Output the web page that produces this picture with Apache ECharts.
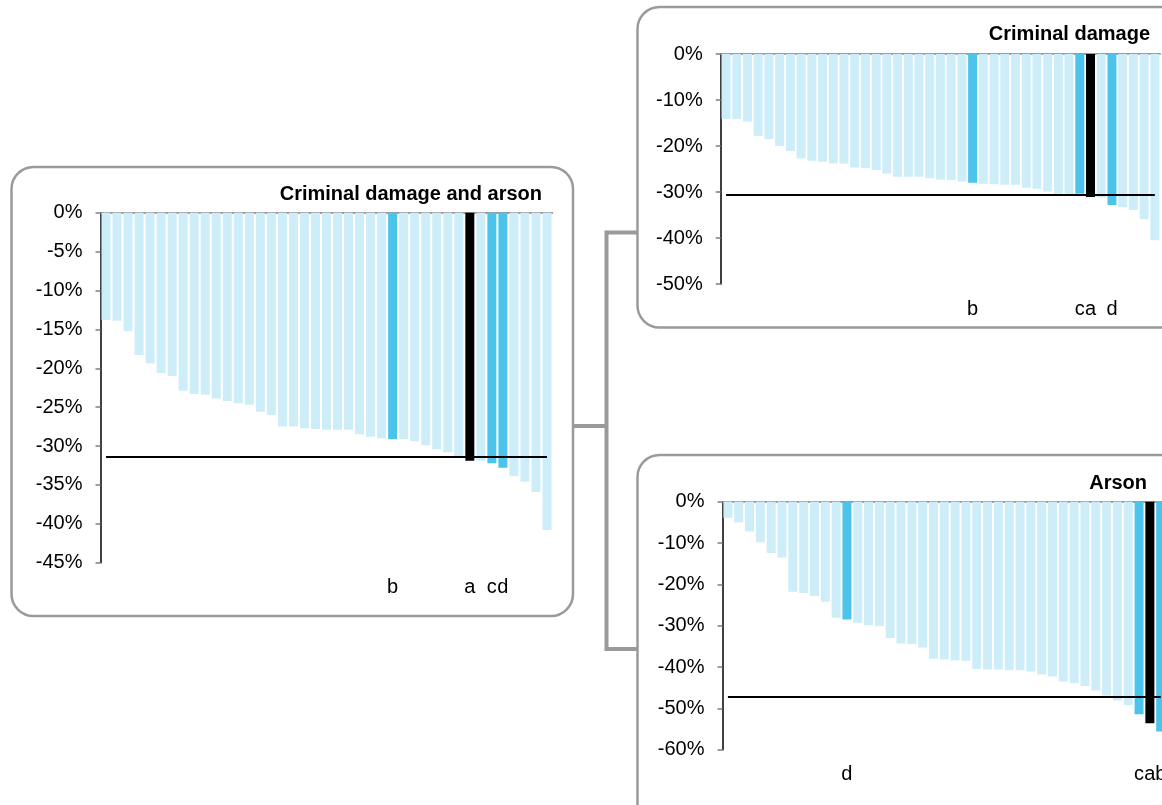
<!DOCTYPE html>
<html>
<head>
<meta charset="utf-8">
<script src="https://cdn.jsdelivr.net/npm/echarts@6/dist/echarts.min.js"></script>
<style>
html,body{margin:0;padding:0;background:#fff;}
#c{width:1162px;height:805px;}
</style>
</head>
<body>
<div id="c"></div>
<script>
// ---- Data ----
const titles = ['Criminal damage and arson', 'Criminal damage', 'Arson'];

const cdaValues = [-13.8, -13.9, -15.2, -18.3, -19.4, -20.6, -21.0, -22.9, -23.3, -23.4,
  -23.9, -24.2, -24.5, -24.7, -25.6, -26.0, -27.5, -27.5, -27.7, -27.8,
  -27.9, -27.9, -27.9, -28.5, -28.8, -29.0, -29.1, -29.1, -29.4, -29.9,
  -30.4, -30.8, -31.3, -31.9, -31.9, -32.2, -32.8, -33.9, -34.6, -35.9, -40.8];
const cdaMarks = ['', '', '', '', '', '', '', '', '', '',
  '', '', '', '', '', '', '', '', '', '',
  '', '', '', '', '', '', 'b', '', '', '',
  '', '', '', 'a', '', 'c', 'd', '', '', '', ''];
const cdaAverage = -31.4;

const cdValues = [-14.1, -14.1, -14.7, -17.8, -18.5, -20.0, -21.1, -22.7, -23.2, -23.4,
  -23.8, -23.8, -24.7, -24.8, -25.2, -26.0, -26.7, -26.7, -26.7, -27.0,
  -27.3, -27.4, -27.7, -28.0, -28.2, -28.3, -28.4, -28.4, -29.1, -29.3,
  -29.9, -30.4, -30.4, -30.4, -31.1, -31.2, -32.8, -33.3, -33.9, -35.9, -40.5];
const cdMarks = ['', '', '', '', '', '', '', '', '', '',
  '', '', '', '', '', '', '', '', '', '',
  '', '', '', 'b', '', '', '', '', '', '',
  '', '', '', 'c', 'a', '', 'd', '', '', '', ''];
const cdAverage = -30.6;

const arsonValues = [-3.9, -5.0, -7.2, -9.8, -12.4, -13.5, -21.8, -22.1, -22.8, -24.2,
  -28.1, -28.5, -29.3, -29.9, -30.1, -33.0, -34.3, -34.4, -35.3, -38.0,
  -38.2, -38.4, -38.5, -40.5, -40.6, -40.6, -40.8, -40.8, -41.1, -41.8,
  -42.3, -43.5, -43.9, -44.6, -45.7, -46.9, -48.1, -49.2, -51.4, -53.6, -55.6];
const arsonMarks = ['', '', '', '', '', '', '', '', '', '',
  '', 'd', '', '', '', '', '', '', '', '',
  '', '', '', '', '', '', '', '', '', '',
  '', '', '', '', '', '', '', '', 'c', 'a', 'b'];
const arsonAverage = -47.3;

const yMins = [-45, -50, -60];
const yIntervals = [5, 10, 10];

// ---- Styling ----
const LIGHT = '#cdedf9';
const DARK = '#4bc3eb';
const BLACK = '#000000';
const FONT = "'Liberation Sans', Arial, sans-serif";

const panels = [
  {values: cdaValues, marks: cdaMarks, avg: cdaAverage,
   grid: {left: 100.5, top: 212.7, width: 452, height: 350}},
  {values: cdValues, marks: cdMarks, avg: cdAverage,
   grid: {left: 720.7, top: 54, width: 439.5, height: 230}},
  {values: arsonValues, marks: arsonMarks, avg: arsonAverage,
   grid: {left: 722.5, top: 501.7, width: 443.6, height: 248}}
];

const grid = [], xAxis = [], yAxis = [], series = [];
panels.forEach((p, i) => {
  grid.push(Object.assign({containLabel: false, outerBoundsMode: 'none'}, p.grid));
  xAxis.push({
    type: 'category', gridIndex: i, position: 'top', data: p.marks,
    axisLine: {show: true, onZero: false, lineStyle: {color: '#7f7f7f', width: 1.5}},
    axisTick: {show: false}, axisLabel: {show: false}, splitLine: {show: false}
  });
  xAxis.push({
    type: 'category', gridIndex: i, position: 'bottom', data: p.marks,
    axisLine: {show: false, onZero: false}, axisTick: {show: false},
    axisLabel: {show: true, interval: 0, margin: 15, fontSize: 20, color: '#000', fontFamily: FONT},
    splitLine: {show: false}
  });
  yAxis.push({
    type: 'value', gridIndex: i, min: yMins[i], max: 0, interval: yIntervals[i],
    axisLine: {show: true, onZero: false, lineStyle: {color: '#000', width: 1.5}},
    axisTick: {show: true, length: 5, lineStyle: {color: '#7f7f7f', width: 1.5}},
    axisLabel: {formatter: '{value}%', fontSize: 20, color: '#000', fontFamily: FONT, margin: 18},
    splitLine: {show: false}
  });
  series.push({
    type: 'bar', xAxisIndex: 2 * i + 1, yAxisIndex: i, barWidth: 9,
    data: p.values.map((v, k) => ({
      value: v,
      itemStyle: {color: p.marks[k] === 'a' ? BLACK : (p.marks[k] ? DARK : LIGHT)}
    })),
    markLine: {
      silent: true, symbol: ['none', 'none'], label: {show: false},
      lineStyle: {color: '#000', width: 2, type: 'solid'},
      data: [[{coord: [0, p.avg]}, {coord: [p.values.length - 1, p.avg]}]]
    },
    animation: false
  });
});

const title = [
  {text: titles[0], right: 620, top: 184.5},
  {text: titles[1], right: 12, top: 24},
  {text: titles[2], right: 15, top: 473.5}
].map(t => Object.assign(t, {padding: 0,
  textStyle: {fontSize: 20, fontWeight: 'bold', color: '#000', fontFamily: FONT}}));

const BORDER = '#9a9a9a';
const graphic = [
  {type: 'rect', shape: {x: 11.5, y: 167, width: 561.5, height: 449, r: 22},
   style: {fill: 'none', stroke: BORDER, lineWidth: 2.5}, silent: true},
  {type: 'rect', shape: {x: 637.5, y: 7, width: 545, height: 320.5, r: 22},
   style: {fill: 'none', stroke: BORDER, lineWidth: 2.5}, silent: true},
  {type: 'rect', shape: {x: 637.5, y: 455, width: 545, height: 400, r: 22},
   style: {fill: 'none', stroke: BORDER, lineWidth: 2.5}, silent: true},
  {type: 'polyline', shape: {points: [[573, 426], [606.5, 426]]},
   style: {stroke: BORDER, lineWidth: 4, fill: 'none'}, silent: true},
  {type: 'polyline', shape: {points: [[637, 232.5], [606.5, 232.5], [606.5, 649], [637, 649]]},
   style: {stroke: BORDER, lineWidth: 4, fill: 'none'}, silent: true}
];

const chart = echarts.init(document.getElementById('c'), null, {renderer: 'canvas'});
chart.setOption({
  animation: false,
  backgroundColor: '#fff',
  title, grid, xAxis, yAxis, series, graphic
});
</script>
</body>
</html>
